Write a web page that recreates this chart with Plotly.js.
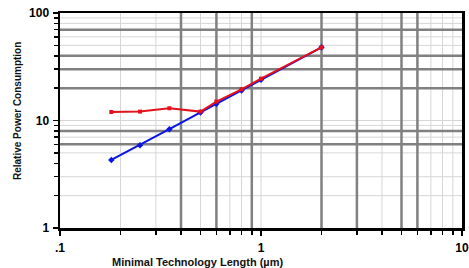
<!DOCTYPE html>
<html>
<head>
<meta charset="utf-8">
<script src="https://cdn.plot.ly/plotly-3.0.1.min.js"></script>
<style>html,body{margin:0;padding:0;background:#fff;}#chart{width:469px;height:268px;}</style>
</head>
<body>
<div id="chart"></div>
<script>
// ---- data ----
var techLength = [0.18, 0.25, 0.35, 0.5, 0.6, 0.8, 1.0, 2.0];
var bluePower  = [4.3, 5.9, 8.3, 11.9, 14.3, 19.0, 24.0, 48];
var redPower   = [12.0, 12.1, 13.0, 12.1, 15.0, 19.5, 24.5, 48];

var xTickVals = [0.1, 1, 10];
var xTickText = ['.1', '1', '10'];
var yTickVals = [1, 10, 100];
var yTickText = ['1', '10', '100'];
var xMinorVals = [0.2,0.3,0.4,0.5,0.6,0.7,0.8,0.9,2,3,4,5,6,7,8,9];
var yMinorVals = [2,3,4,5,6,7,8,9,20,30,40,50,60,70,80,90];

// grid lines as drawn in the reference (heavy and light)
var xGridHeavy = [0.4, 0.6, 0.9, 2, 3, 5, 6];
var xGridLight = [0.2, 0.3, 0.5, 0.7, 0.8, 1, 4, 7, 8, 9];
var yGridHeavy = [6, 8, 20, 30, 40, 70];
var yGridLight = [2, 3, 5, 7, 9, 10, 50, 60, 80, 90];

var xTitle = 'Minimal Technology Length (µm)';
var yTitle = 'Relative Power Consumption';

// ---- build ----
var FONT = 'Liberation Sans, Arial, sans-serif';
var shapes = [];
function vline(v, color, w) {
  shapes.push({type:'line', layer:'below', xref:'x', yref:'y domain',
    x0:v, x1:v, y0:0, y1:1, line:{color:color, width:w}});
}
function hline(v, color, w) {
  shapes.push({type:'line', layer:'below', xref:'x domain', yref:'y',
    x0:0, x1:1, y0:v, y1:v, line:{color:color, width:w}});
}
xGridLight.forEach(function(v){ vline(v, '#d6d6d6', 1); });
yGridLight.forEach(function(v){ hline(v, '#d6d6d6', 1); });
xGridHeavy.forEach(function(v){ vline(v, '#808080', 2.5); });
yGridHeavy.forEach(function(v){ hline(v, '#808080', 2.5); });

var traces = [
  {x: techLength, y: bluePower, type:'scatter', mode:'lines+markers',
   line:{color:'#0a14e6', width:2}, marker:{color:'#0a14e6', size:5, symbol:'diamond'},
   showlegend:false, hoverinfo:'skip'},
  {x: techLength, y: redPower, type:'scatter', mode:'lines+markers',
   line:{color:'#e3121c', width:2}, marker:{color:'#e3121c', size:4, symbol:'square'},
   showlegend:false, hoverinfo:'skip'}
];

var axisCommon = {
  type:'log', showgrid:false, zeroline:false,
  showline:true, linecolor:'black', linewidth:2.5, mirror:true,
  ticks:'outside', ticklen:5, tickwidth:1.5, tickcolor:'black',
  tickfont:{family:FONT, size:12, color:'black', weight:'bold'},
  tickmode:'array'
};

var layout = {
  width:469, height:268,
  margin:{l:60, r:7, t:13, b:40, pad:0},
  paper_bgcolor:'white', plot_bgcolor:'white',
  showlegend:false,
  xaxis: Object.assign({}, axisCommon, {
    range:[-1, 1], tickvals:xTickVals, ticktext:xTickText, ticklabelstandoff:2,
    minor:{tickmode:'array', tickvals:xMinorVals, ticks:'outside', ticklen:4, tickcolor:'black', tickwidth:1.5, showgrid:false}
  }),
  yaxis: Object.assign({}, axisCommon, {
    range:[0, 2], tickvals:yTickVals, ticktext:yTickText, ticklabelstandoff:1,
    minor:{tickmode:'array', tickvals:yMinorVals, ticks:'outside', ticklen:4, tickcolor:'black', tickwidth:1.5, showgrid:false}
  }),
  shapes: shapes,
  annotations: [
    {text:xTitle, xref:'paper', yref:'paper', x:0.341, y:-0.158, xanchor:'center', yanchor:'middle',
     showarrow:false, font:{family:FONT, size:11, color:'#111', weight:'bold'}},
    {text:yTitle, xref:'paper', yref:'paper', x:-0.107, y:0.544, xanchor:'center', yanchor:'middle',
     textangle:-90, showarrow:false, font:{family:FONT, size:10, color:'#111', weight:'bold'}}
  ]
};

Plotly.newPlot('chart', traces, layout, {staticPlot:true, displayModeBar:false});
</script>
</body>
</html>
